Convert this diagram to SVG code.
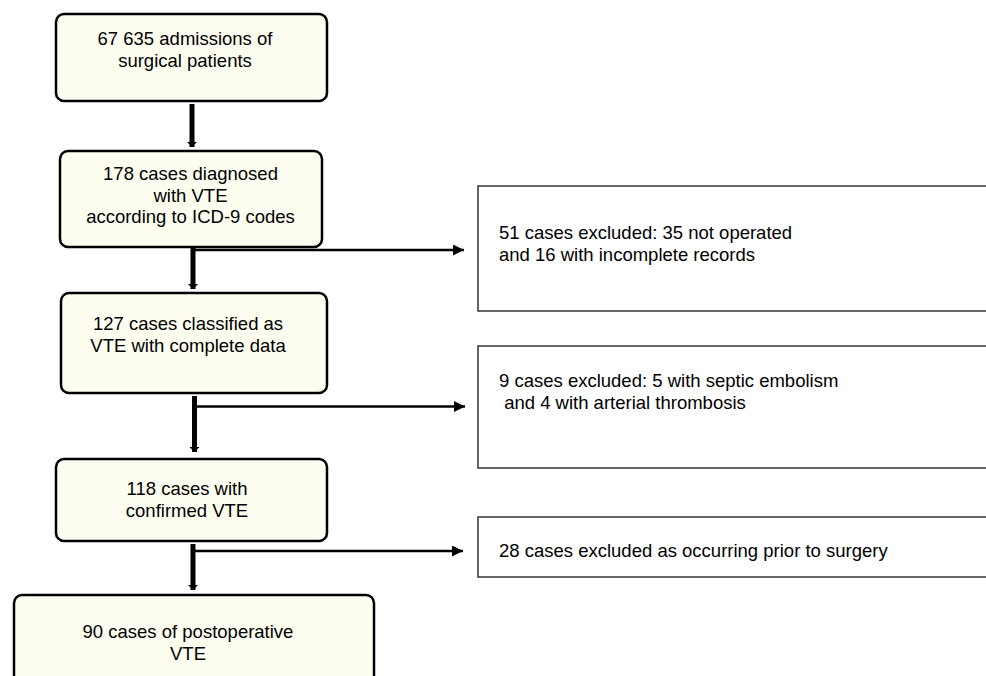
<svg xmlns="http://www.w3.org/2000/svg" width="986" height="676" viewBox="0 0 986 676">
<style>
.nb{fill:#FEFEF0;stroke:#000;stroke-width:2.5}
.eb{fill:#fff;stroke:#333;stroke-width:1.5}
text{font-family:"Liberation Sans",Arial,sans-serif;font-size:18.5px;fill:#000}
.c{text-anchor:middle}
.v{stroke:#000;stroke-width:5;fill:none}
.h{stroke:#000;stroke-width:2.5;fill:none}
</style>
<defs>
<marker id="ah" markerUnits="userSpaceOnUse" markerWidth="12" markerHeight="11" refX="11" refY="5.5" orient="auto">
<path d="M0,0 L11,5.5 L0,11 Z" fill="#000"/>
</marker>
<marker id="av" markerUnits="userSpaceOnUse" markerWidth="6" markerHeight="10" refX="5" refY="5" orient="auto">
<path d="M0,0 L5,5 L0,10 Z" fill="#000"/>
</marker>
</defs>
<rect width="986" height="676" fill="#fff"/>
<g id="connectors">
<line class="v" x1="192" y1="104" x2="192" y2="147" marker-end="url(#av)"/>
<line class="v" x1="193" y1="248" x2="193" y2="289" marker-end="url(#av)"/>
<line class="h" x1="193" y1="250" x2="464" y2="250" marker-end="url(#ah)"/>
<line class="v" x1="194.5" y1="396" x2="194.5" y2="452" marker-end="url(#av)"/>
<line class="h" x1="197" y1="406.5" x2="465" y2="406.5" marker-end="url(#ah)"/>
<line class="v" x1="193" y1="544" x2="193" y2="590" marker-end="url(#av)"/>
<line class="h" x1="193" y1="551" x2="463" y2="551" marker-end="url(#ah)"/>
</g>
<g id="n1">
<rect class="nb" x="56" y="14" width="271" height="87" rx="8"/>
<text class="c" x="185" y="45">67 635 admissions of</text>
<text class="c" x="185" y="67">surgical patients</text>
</g>
<g id="n2">
<rect class="nb" x="60" y="151" width="262" height="96" rx="8"/>
<text class="c" x="190.5" y="180">178 cases diagnosed</text>
<text class="c" x="190.5" y="202">with VTE</text>
<text class="c" x="190.5" y="223">according to ICD-9 codes</text>
</g>
<g id="n3">
<rect class="nb" x="61" y="293" width="266" height="100" rx="8"/>
<text class="c" x="188" y="330">127 cases classified as</text>
<text class="c" x="188" y="352">VTE with complete data</text>
</g>
<g id="n4">
<rect class="nb" x="56" y="459" width="271" height="82" rx="8"/>
<text class="c" x="187" y="495">118 cases with</text>
<text class="c" x="187" y="517">confirmed VTE</text>
</g>
<g id="n5">
<rect class="nb" x="14" y="595" width="360" height="90" rx="8"/>
<text class="c" x="188" y="638">90 cases of postoperative</text>
<text class="c" x="188" y="660">VTE</text>
</g>
<g id="e1">
<rect class="eb" x="478" y="186" width="520" height="125"/>
<text x="499" y="239">51 cases excluded: 35 not operated</text>
<text x="499" y="261">and 16 with incomplete records</text>
</g>
<g id="e2">
<rect class="eb" x="478" y="346" width="520" height="122"/>
<text x="499" y="387">9 cases excluded: 5 with septic embolism</text>
<text x="499" y="409" xml:space="preserve"> and 4 with arterial thrombosis</text>
</g>
<g id="e3">
<rect class="eb" x="478" y="517" width="520" height="60"/>
<text x="499" y="557">28 cases excluded as occurring prior to surgery</text>
</g>
</svg>
